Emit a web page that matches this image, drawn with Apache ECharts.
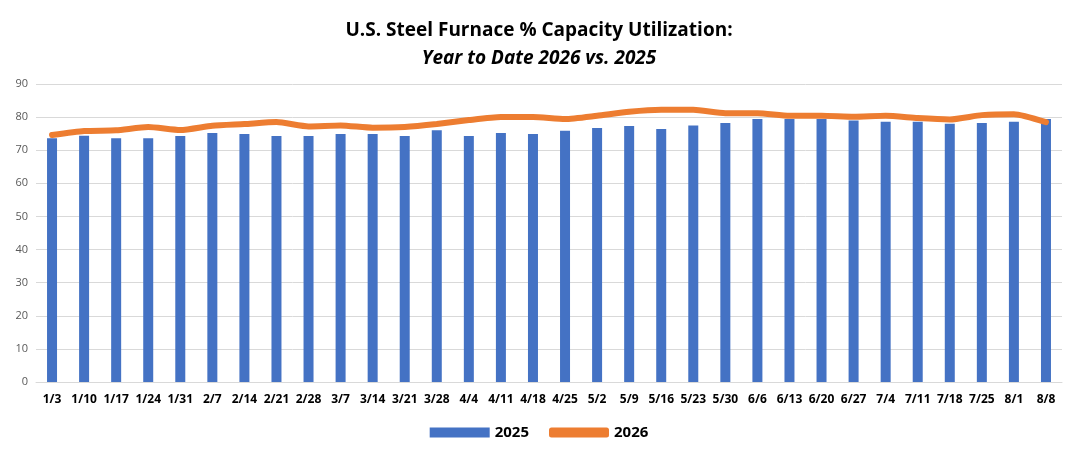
<!DOCTYPE html>
<html><head><meta charset="utf-8">
<script src="https://cdn.jsdelivr.net/npm/echarts@6/dist/echarts.min.js"></script>
<style>html,body{margin:0;background:#fff}#c{width:1078px;height:457px}</style>
</head><body><div id="c"></div>
<script>
var weeks = ['1/3','1/10','1/17','1/24','1/31','2/7','2/14','2/21','2/28','3/7','3/14','3/21','3/28','4/4','4/11','4/18','4/25','5/2','5/9','5/16','5/23','5/30','6/6','6/13','6/20','6/27','7/4','7/11','7/18','7/25','8/1','8/8'];
var util2025 = [73.6,74.4,73.6,73.6,74.3,75.2,74.9,74.3,74.3,74.9,74.9,74.3,76.0,74.3,75.2,74.9,75.9,76.7,77.3,76.4,77.5,78.2,79.4,79.4,79.4,79.0,78.6,78.6,78.0,78.2,78.6,79.4];
var util2026 = [74.6,75.8,76.0,77.0,76.1,77.4,77.9,78.5,77.2,77.5,76.8,77.0,77.9,79.1,80.0,80.0,79.4,80.4,81.6,82.2,82.2,81.2,81.2,80.4,80.4,80.1,80.4,79.7,79.3,80.6,80.9,78.5];

var chart = echarts.init(document.getElementById('c'));
chart.setOption({
	animation: false,
	title: {
		text: '{a|U.S. Steel Furnace % Capacity Utilization:}\n{b|Year to Date 2026 vs. 2025}',
		left: 'center', top: 12,
		textStyle: {
			rich: {
				a: {fontFamily: 'Open Sans', fontSize: 19, fontWeight: 'bold', color: '#000', lineHeight: 28},
				b: {fontFamily: 'Open Sans', fontSize: 19, fontWeight: 'bold', fontStyle: 'italic', color: '#000', lineHeight: 28}
			}
		}
	},
	grid: {left: 36, right: 16, top: 84, bottom: 75, containLabel: false},
	legend: {
		bottom: 12, itemGap: 20, itemWidth: 60, itemHeight: 10,
		textStyle: {fontFamily: 'Open Sans', fontSize: 15, fontWeight: 'bold', color: '#000'},
		data: [{name: '2025', icon: 'rect'}, {name: '2026', icon: 'roundRect'}]
	},
	xAxis: {
		type: 'category', data: weeks,
		axisTick: {show: false},
		axisLine: {lineStyle: {color: '#d9d9d9'}},
		axisLabel: {color: '#000', fontWeight: 'bold', fontSize: 12, fontFamily: 'Open Sans', interval: 0, margin: 12}
	},
	yAxis: {
		type: 'value', min: 0, max: 90, interval: 10,
		splitLine: {lineStyle: {color: '#d9d9d9'}},
		axisLabel: {color: '#595959', fontSize: 11, fontFamily: 'Open Sans'}
	},
	series: [{
		name: '2025', type: 'bar', data: util2025, barWidth: 10,
		itemStyle: {color: '#4472c4'}
	}, {
		name: '2026', type: 'line', data: util2026, symbol: 'none', smooth: 0.2,
		lineStyle: {color: '#ed7d31', width: 6, cap: 'round'},
		itemStyle: {color: '#ed7d31'}
	}]
});
</script></body></html>
